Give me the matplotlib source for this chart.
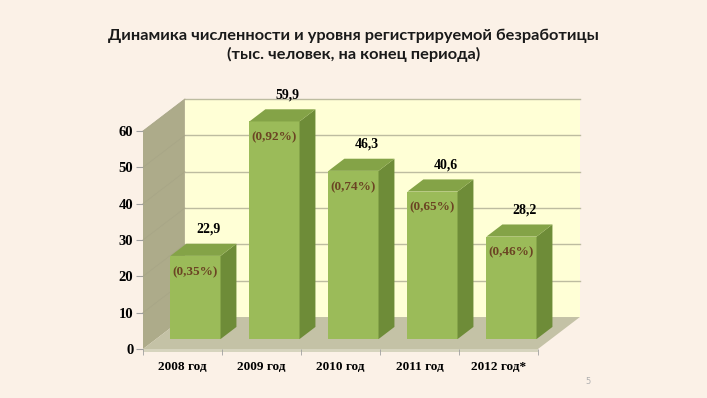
import numpy as np
import matplotlib
matplotlib.use("Agg")
import matplotlib.pyplot as plt
from matplotlib.patches import Polygon

# data
years = ["2008 год", "2009 год", "2010 год", "2011 год", "2012 год*"]
values = [22.9, 59.9, 46.3, 40.6, 28.2]
value_labels = ["22,9", "59,9", "46,3", "40,6", "28,2"]
rate_labels = ["(0,35%)", "(0,92%)", "(0,74%)", "(0,65%)", "(0,46%)"]
yticks = [0, 10, 20, 30, 40, 50, 60]

title = "Динамика численности и уровня регистрируемой безработицы\n(тыс. человек, на конец периода)"

# colours
bg = "#FBF1E7"
back_wall = "#FFFFD6"
side_wall = "#ADAB8A"
floor_col = "#C4C2A6"
grid_col = "#BDBCA0"
front_col = "#9BBB59"
side_col = "#6E8C38"
top_col = "#84A347"
rate_col = "#6B4423"

# 3d look: depth offset in data units (x in categories, y in values)
DX = 0.53
DY = 8.8
gap = 0.183
d_front, d_back = 0.31, 0.69


def p3(x, y, d):
    return (x + d * DX, y + d * DY)


fig = plt.figure(figsize=(7.07, 3.98), dpi=100)
fig.patch.set_facecolor(bg)
ax = fig.add_axes([143 / 707, 49 / 398, 395 / 707, 218 / 398])
ax.set_xlim(0, len(years))
ax.set_ylim(0, 60)
ax.patch.set_visible(False)
for s in ax.spines.values():
    s.set_visible(False)

n = len(years)
top = yticks[-1]


def poly(pts, fc, z, ec="none", lw=0):
    ax.add_patch(Polygon(pts, closed=True, facecolor=fc, edgecolor=ec,
                         linewidth=lw, zorder=z, clip_on=False))


# walls and floor
poly([p3(0, 0, 1), p3(n, 0, 1), p3(n, top, 1), p3(0, top, 1)], back_wall, 1)
poly([p3(0, 0, 0), p3(0, top, 0), p3(0, top, 1), p3(0, 0, 1)], side_wall, 1)
poly([p3(0, 0, 0), p3(n, 0, 0), p3(n, 0, 1), p3(0, 0, 1)], floor_col, 1)
poly([p3(0, -0.8, 0), p3(n, -0.8, 0), p3(n, 0, 0), p3(0, 0, 0)], "#D6D4BE", 1)

for t in yticks[1:]:
    xs, ys = zip(p3(0, t, 1), p3(n, t, 1))
    ax.plot(xs, ys, color=grid_col, lw=1.0, zorder=2, clip_on=False)
    xs, ys = zip(p3(0, t, 0), p3(0, t, 1))
    ax.plot(xs, ys, color="#A8A687", lw=0.6, zorder=2, clip_on=False)

# bars
for i, v in enumerate(values):
    x0, x1 = i + gap, i + 1 - gap
    poly([p3(x0, 0, d_front), p3(x1, 0, d_front), p3(x1, v, d_front), p3(x0, v, d_front)], front_col, 3)
    poly([p3(x1, 0, d_front), p3(x1, 0, d_back), p3(x1, v, d_back), p3(x1, v, d_front)], side_col, 3)
    poly([p3(x0, v, d_front), p3(x1, v, d_front), p3(x1, v, d_back), p3(x0, v, d_back)], top_col, 3)

    ax.annotate(value_labels[i], p3(i + 0.5, v, 0.62), xytext=(0, 12),
                textcoords="offset points", ha="center", va="center",
                fontsize=10, fontweight="bold", family="Liberation Serif",
                color="black", zorder=5, annotation_clip=False)
    ax.annotate(rate_labels[i], p3(i + 0.5, v, d_front), xytext=(0, -11.5),
                textcoords="offset points", ha="center", va="center",
                fontsize=9.5, fontweight="bold", family="Liberation Serif",
                color=rate_col, zorder=5, annotation_clip=False)

# axes ticks
ax.set_yticks(yticks)
ax.set_yticklabels([str(t) for t in yticks], fontsize=10.5, fontweight="bold",
                   family="Liberation Serif")
ax.set_xticks(np.arange(n) + 0.5)
ax.set_xticklabels(years, fontsize=9.5, fontweight="bold", family="Liberation Serif")
ax.set_xticks(np.arange(n + 1), minor=True)
ax.tick_params(axis="y", length=5, color="#A0A0A0", pad=2)
ax.tick_params(axis="x", which="major", length=0, pad=9)
ax.tick_params(axis="x", which="minor", length=4, color="#A0A0A0")

fig.text(0.5, 1 - 45 / 398, title, ha="center", va="center", fontsize=11.8,
         fontweight="bold", family="Lato", linespacing=1.35, color="#1A1A1A")
fig.text(588 / 707, 1 - 381 / 398, "5", ha="center", va="center", fontsize=6,
         color="#B0B0B0")

fig.savefig("out.png", dpi=100, facecolor=bg)
